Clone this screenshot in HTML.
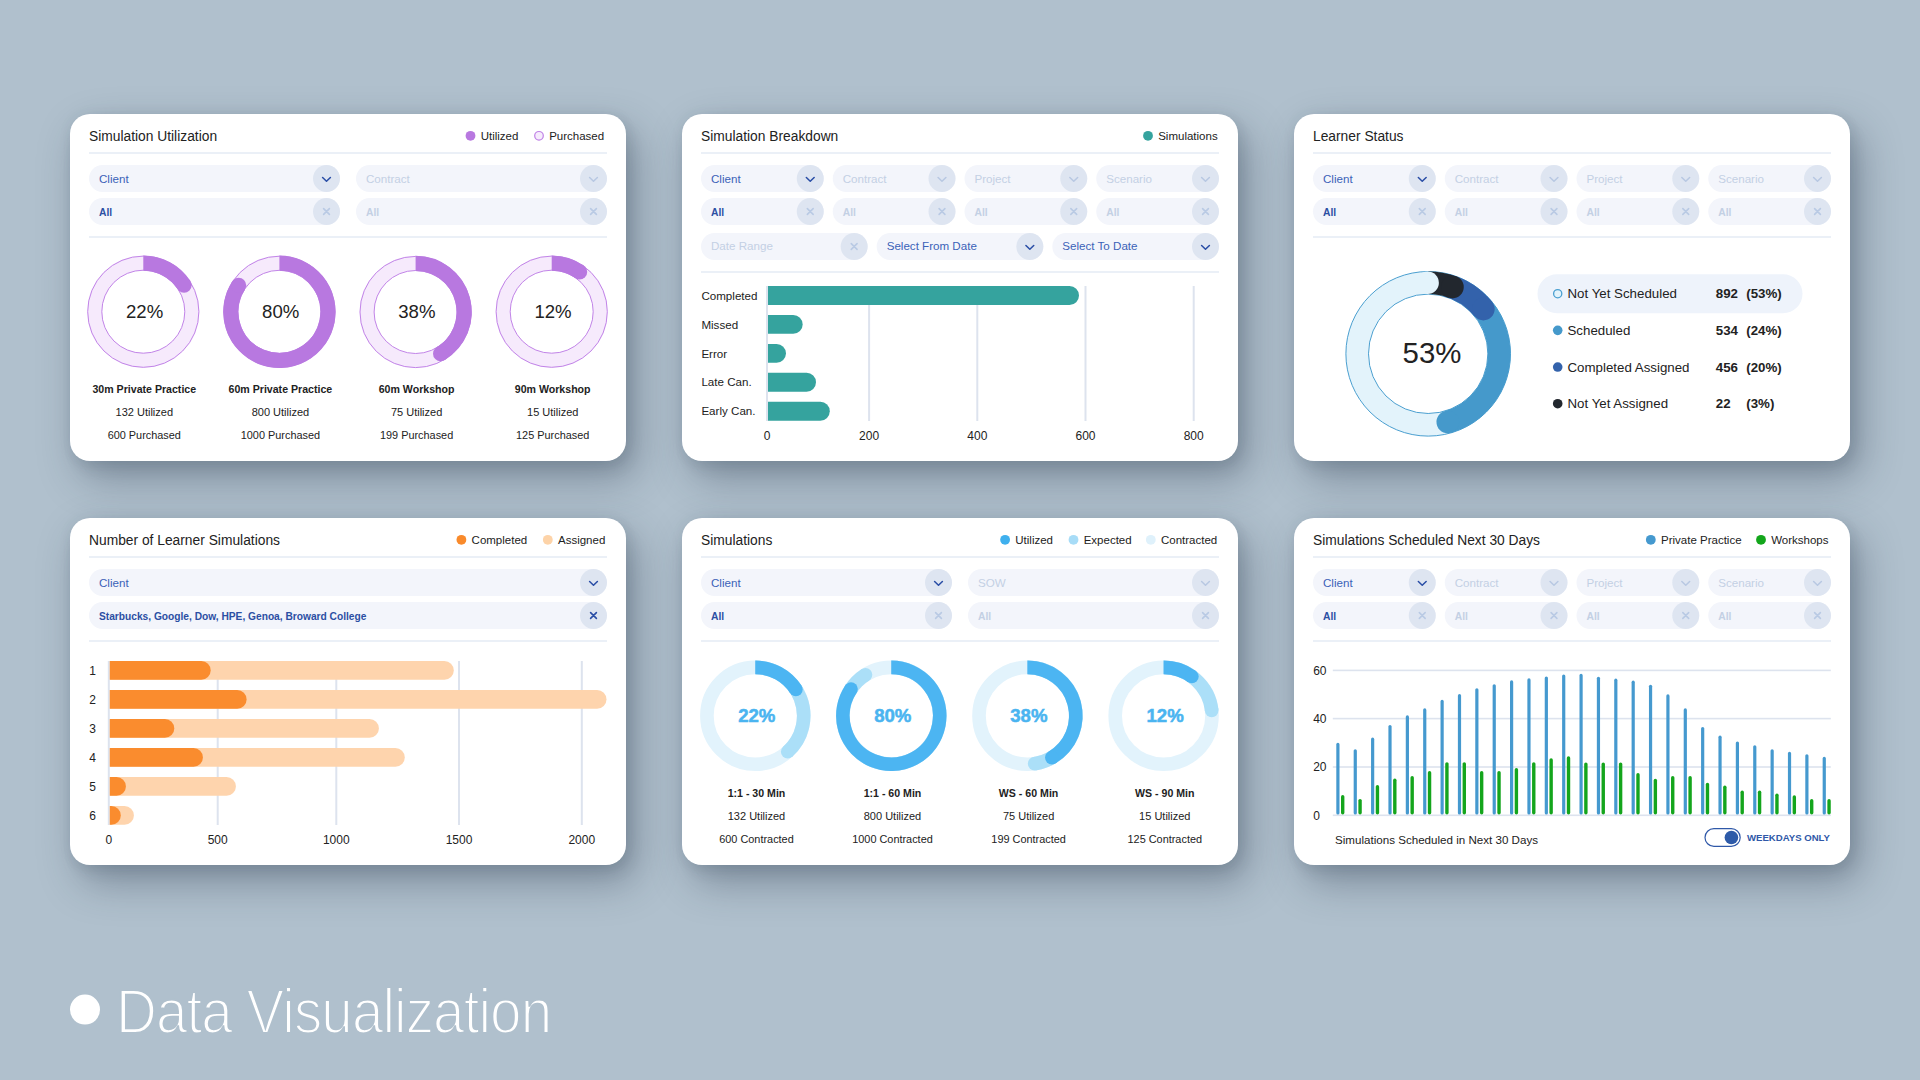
<!DOCTYPE html>
<html><head><meta charset="utf-8"><title>Data Visualization</title><style>
*{margin:0;padding:0;box-sizing:border-box}
html,body{width:1920px;height:1080px;overflow:hidden;background:#b0c0cd;font-family:"Liberation Sans", sans-serif}
.card{position:absolute;width:556px;height:347px;background:#fff;border-radius:20px;box-shadow:0 0 14px rgba(40,60,80,0.06),5px 8px 14px rgba(35,50,70,0.08),10px 17px 40px rgba(35,50,70,0.37)}
svg{position:absolute;left:0;top:0}
.foot{position:absolute;left:116px;top:970.5px;font-size:63px;line-height:80px;color:#fff;letter-spacing:-1px;-webkit-text-stroke:2.1px #b0c0cd;transform:scaleX(0.897);transform-origin:0 0;white-space:nowrap}
</style></head>
<body>
<div class="card" style="left:70px;top:114px"></div><div class="card" style="left:682px;top:114px"></div><div class="card" style="left:1294px;top:114px"></div><div class="card" style="left:70px;top:518px"></div><div class="card" style="left:682px;top:518px"></div><div class="card" style="left:1294px;top:518px"></div>
<svg width="1920" height="1080" viewBox="0 0 1920 1080" font-family='"Liberation Sans", sans-serif'>
<text x="89" y="141.0" font-size="13.8" fill="#222222" font-weight="normal" text-anchor="start" >Simulation Utilization</text>
<rect x="89" y="152.2" width="518" height="1.6" rx="0" fill="#e7edf6" />
<text x="480.7" y="140.2" font-size="11.5" fill="#222222" font-weight="normal" text-anchor="start" >Utilized</text>
<circle cx="470.5" cy="135.8" r="4.9" fill="#b878e0" stroke="none" stroke-width="0" />
<text x="549.2" y="140.2" font-size="11.5" fill="#222222" font-weight="normal" text-anchor="start" >Purchased</text>
<circle cx="539.0" cy="135.8" r="4.3" fill="#f6ebfc" stroke="#bf80e6" stroke-width="1.2" />
<rect x="89" y="165" width="251" height="27" rx="13.5" fill="#f3f5fb" />
<circle cx="326.5" cy="178.5" r="13.5" fill="#dee5f1" stroke="none" stroke-width="0" />
<text x="99" y="182.6" font-size="11.6" fill="#3b62b8" font-weight="normal" text-anchor="start" >Client</text>
<path d="M322.6 177.5L326.5 181.20000000000002L330.4 177.5" fill="none" stroke="#2a4ea6" stroke-width="1.55" stroke-linecap="round" stroke-linejoin="round"/>
<rect x="356" y="165" width="251" height="27" rx="13.5" fill="#f3f5fb" />
<circle cx="593.5" cy="178.5" r="13.5" fill="#dee5f1" stroke="none" stroke-width="0" />
<text x="366" y="182.6" font-size="11.6" fill="#c3d0e4" font-weight="normal" text-anchor="start" >Contract</text>
<path d="M589.6 177.5L593.5 181.20000000000002L597.4 177.5" fill="none" stroke="#b8c8e2" stroke-width="1.55" stroke-linecap="round" stroke-linejoin="round"/>
<rect x="89" y="198" width="251" height="27" rx="13.5" fill="#f3f5fb" />
<circle cx="326.5" cy="211.5" r="13.5" fill="#dee5f1" stroke="none" stroke-width="0" />
<text x="99" y="215.6" font-size="10.3" fill="#2b4fa3" font-weight="bold" text-anchor="start" >All</text>
<path d="M323.6 208.6L329.4 214.4M329.4 208.6L323.6 214.4" fill="none" stroke="#b9cae4" stroke-width="1.6" stroke-linecap="round"/>
<rect x="356" y="198" width="251" height="27" rx="13.5" fill="#f3f5fb" />
<circle cx="593.5" cy="211.5" r="13.5" fill="#dee5f1" stroke="none" stroke-width="0" />
<text x="366" y="215.6" font-size="10.3" fill="#c3d0e4" font-weight="bold" text-anchor="start" >All</text>
<path d="M590.6 208.6L596.4 214.4M596.4 208.6L590.6 214.4" fill="none" stroke="#b9cae4" stroke-width="1.6" stroke-linecap="round"/>
<rect x="89" y="236.2" width="518" height="1.6" rx="0" fill="#e7edf6" />
<circle cx="143.3" cy="311.7" r="48.6" fill="none" stroke="#f6eafc" stroke-width="14.8" />
<circle cx="143.3" cy="311.7" r="55.6" fill="none" stroke="#c285e8" stroke-width="1" />
<circle cx="143.3" cy="311.7" r="41.5" fill="none" stroke="#c285e8" stroke-width="1" />
<path d="M143.30 263.10A48.6 48.6 0 0 1 184.06 285.23" fill="none" stroke="#b878e0" stroke-width="15.2"/>
<circle cx="184.06" cy="285.23" r="7.6" fill="#b878e0" stroke="none" stroke-width="0" />
<text x="144.60000000000002" y="318.09999999999997" font-size="18.6" fill="#222222" font-weight="normal" text-anchor="middle" >22%</text>
<text x="144.3" y="393" font-size="10.6" fill="#222222" font-weight="bold" text-anchor="middle" >30m Private Practice</text>
<text x="144.3" y="416.1" font-size="11" fill="#222222" font-weight="normal" text-anchor="middle" >132 Utilized</text>
<text x="144.3" y="439.2" font-size="10.9" fill="#222222" font-weight="normal" text-anchor="middle" >600 Purchased</text>
<circle cx="279.4" cy="311.8" r="48.6" fill="none" stroke="#f6eafc" stroke-width="14.8" />
<circle cx="279.4" cy="311.8" r="55.6" fill="none" stroke="#c285e8" stroke-width="1" />
<circle cx="279.4" cy="311.8" r="41.5" fill="none" stroke="#c285e8" stroke-width="1" />
<path d="M279.40 263.20A48.6 48.6 0 1 1 238.64 285.33" fill="none" stroke="#b878e0" stroke-width="15.2"/>
<circle cx="238.64" cy="285.33" r="7.6" fill="#b878e0" stroke="none" stroke-width="0" />
<text x="280.7" y="318.2" font-size="18.6" fill="#222222" font-weight="normal" text-anchor="middle" >80%</text>
<text x="280.4" y="393" font-size="10.6" fill="#222222" font-weight="bold" text-anchor="middle" >60m Private Practice</text>
<text x="280.4" y="416.1" font-size="11" fill="#222222" font-weight="normal" text-anchor="middle" >800 Utilized</text>
<text x="280.4" y="439.2" font-size="10.9" fill="#222222" font-weight="normal" text-anchor="middle" >1000 Purchased</text>
<circle cx="415.6" cy="312" r="48.6" fill="none" stroke="#f6eafc" stroke-width="14.8" />
<circle cx="415.6" cy="312" r="55.6" fill="none" stroke="#c285e8" stroke-width="1" />
<circle cx="415.6" cy="312" r="41.5" fill="none" stroke="#c285e8" stroke-width="1" />
<path d="M415.60 263.40A48.6 48.6 0 0 1 440.63 353.66" fill="none" stroke="#b878e0" stroke-width="15.2"/>
<circle cx="440.63" cy="353.66" r="7.6" fill="#b878e0" stroke="none" stroke-width="0" />
<text x="416.90000000000003" y="318.4" font-size="18.6" fill="#222222" font-weight="normal" text-anchor="middle" >38%</text>
<text x="416.6" y="393" font-size="10.6" fill="#222222" font-weight="bold" text-anchor="middle" >60m Workshop</text>
<text x="416.6" y="416.1" font-size="11" fill="#222222" font-weight="normal" text-anchor="middle" >75 Utilized</text>
<text x="416.6" y="439.2" font-size="10.9" fill="#222222" font-weight="normal" text-anchor="middle" >199 Purchased</text>
<circle cx="551.7" cy="311.7" r="48.6" fill="none" stroke="#f6eafc" stroke-width="14.8" />
<circle cx="551.7" cy="311.7" r="55.6" fill="none" stroke="#c285e8" stroke-width="1" />
<circle cx="551.7" cy="311.7" r="41.5" fill="none" stroke="#c285e8" stroke-width="1" />
<path d="M551.70 263.10A48.6 48.6 0 0 1 579.58 271.89" fill="none" stroke="#b878e0" stroke-width="15.2"/>
<circle cx="579.58" cy="271.89" r="7.6" fill="#b878e0" stroke="none" stroke-width="0" />
<text x="553.0" y="318.09999999999997" font-size="18.6" fill="#222222" font-weight="normal" text-anchor="middle" >12%</text>
<text x="552.7" y="393" font-size="10.6" fill="#222222" font-weight="bold" text-anchor="middle" >90m Workshop</text>
<text x="552.7" y="416.1" font-size="11" fill="#222222" font-weight="normal" text-anchor="middle" >15 Utilized</text>
<text x="552.7" y="439.2" font-size="10.9" fill="#222222" font-weight="normal" text-anchor="middle" >125 Purchased</text>
<text x="701" y="141.0" font-size="13.8" fill="#222222" font-weight="normal" text-anchor="start" >Simulation Breakdown</text>
<rect x="701" y="152.2" width="518" height="1.6" rx="0" fill="#e7edf6" />
<text x="1158.2" y="140.2" font-size="11.5" fill="#222222" font-weight="normal" text-anchor="start" >Simulations</text>
<circle cx="1148.0" cy="135.8" r="4.9" fill="#35a39e" stroke="none" stroke-width="0" />
<rect x="701.0" y="165" width="122.75" height="27" rx="13.5" fill="#f3f5fb" />
<circle cx="810.25" cy="178.5" r="13.5" fill="#dee5f1" stroke="none" stroke-width="0" />
<text x="711.0" y="182.6" font-size="11.6" fill="#3b62b8" font-weight="normal" text-anchor="start" >Client</text>
<path d="M806.35 177.5L810.25 181.20000000000002L814.15 177.5" fill="none" stroke="#2a4ea6" stroke-width="1.55" stroke-linecap="round" stroke-linejoin="round"/>
<rect x="701.0" y="198" width="122.75" height="27" rx="13.5" fill="#f3f5fb" />
<circle cx="810.25" cy="211.5" r="13.5" fill="#dee5f1" stroke="none" stroke-width="0" />
<text x="711.0" y="215.6" font-size="10.3" fill="#2b4fa3" font-weight="bold" text-anchor="start" >All</text>
<path d="M807.35 208.6L813.15 214.4M813.15 208.6L807.35 214.4" fill="none" stroke="#b9cae4" stroke-width="1.6" stroke-linecap="round"/>
<rect x="832.75" y="165" width="122.75" height="27" rx="13.5" fill="#f3f5fb" />
<circle cx="942.0" cy="178.5" r="13.5" fill="#dee5f1" stroke="none" stroke-width="0" />
<text x="842.75" y="182.6" font-size="11.6" fill="#c3d0e4" font-weight="normal" text-anchor="start" >Contract</text>
<path d="M938.1 177.5L942.0 181.20000000000002L945.9 177.5" fill="none" stroke="#b8c8e2" stroke-width="1.55" stroke-linecap="round" stroke-linejoin="round"/>
<rect x="832.75" y="198" width="122.75" height="27" rx="13.5" fill="#f3f5fb" />
<circle cx="942.0" cy="211.5" r="13.5" fill="#dee5f1" stroke="none" stroke-width="0" />
<text x="842.75" y="215.6" font-size="10.3" fill="#c3d0e4" font-weight="bold" text-anchor="start" >All</text>
<path d="M939.1 208.6L944.9 214.4M944.9 208.6L939.1 214.4" fill="none" stroke="#b9cae4" stroke-width="1.6" stroke-linecap="round"/>
<rect x="964.5" y="165" width="122.75" height="27" rx="13.5" fill="#f3f5fb" />
<circle cx="1073.75" cy="178.5" r="13.5" fill="#dee5f1" stroke="none" stroke-width="0" />
<text x="974.5" y="182.6" font-size="11.6" fill="#c3d0e4" font-weight="normal" text-anchor="start" >Project</text>
<path d="M1069.85 177.5L1073.75 181.20000000000002L1077.65 177.5" fill="none" stroke="#b8c8e2" stroke-width="1.55" stroke-linecap="round" stroke-linejoin="round"/>
<rect x="964.5" y="198" width="122.75" height="27" rx="13.5" fill="#f3f5fb" />
<circle cx="1073.75" cy="211.5" r="13.5" fill="#dee5f1" stroke="none" stroke-width="0" />
<text x="974.5" y="215.6" font-size="10.3" fill="#c3d0e4" font-weight="bold" text-anchor="start" >All</text>
<path d="M1070.85 208.6L1076.65 214.4M1076.65 208.6L1070.85 214.4" fill="none" stroke="#b9cae4" stroke-width="1.6" stroke-linecap="round"/>
<rect x="1096.25" y="165" width="122.75" height="27" rx="13.5" fill="#f3f5fb" />
<circle cx="1205.5" cy="178.5" r="13.5" fill="#dee5f1" stroke="none" stroke-width="0" />
<text x="1106.25" y="182.6" font-size="11.6" fill="#c3d0e4" font-weight="normal" text-anchor="start" >Scenario</text>
<path d="M1201.6 177.5L1205.5 181.20000000000002L1209.4 177.5" fill="none" stroke="#b8c8e2" stroke-width="1.55" stroke-linecap="round" stroke-linejoin="round"/>
<rect x="1096.25" y="198" width="122.75" height="27" rx="13.5" fill="#f3f5fb" />
<circle cx="1205.5" cy="211.5" r="13.5" fill="#dee5f1" stroke="none" stroke-width="0" />
<text x="1106.25" y="215.6" font-size="10.3" fill="#c3d0e4" font-weight="bold" text-anchor="start" >All</text>
<path d="M1202.6 208.6L1208.4 214.4M1208.4 208.6L1202.6 214.4" fill="none" stroke="#b9cae4" stroke-width="1.6" stroke-linecap="round"/>
<rect x="701" y="233" width="166.66666666666666" height="27" rx="13.5" fill="#f3f5fb" />
<circle cx="854.1666666666666" cy="246.5" r="13.5" fill="#dee5f1" stroke="none" stroke-width="0" />
<text x="711" y="249.8" font-size="11.6" fill="#c3d0e4" font-weight="normal" text-anchor="start" >Date Range</text>
<path d="M851.2666666666667 243.6L857.0666666666666 249.4M857.0666666666666 243.6L851.2666666666667 249.4" fill="none" stroke="#b9cae4" stroke-width="1.6" stroke-linecap="round"/>
<rect x="876.6666666666666" y="233" width="166.66666666666666" height="27" rx="13.5" fill="#f3f5fb" />
<circle cx="1029.8333333333333" cy="246.5" r="13.5" fill="#dee5f1" stroke="none" stroke-width="0" />
<text x="886.6666666666666" y="249.8" font-size="11.6" fill="#3b62b8" font-weight="normal" text-anchor="start" >Select From Date</text>
<path d="M1025.9333333333332 245.5L1029.8333333333333 249.20000000000002L1033.7333333333333 245.5" fill="none" stroke="#2a4ea6" stroke-width="1.55" stroke-linecap="round" stroke-linejoin="round"/>
<rect x="1052.3333333333333" y="233" width="166.66666666666666" height="27" rx="13.5" fill="#f3f5fb" />
<circle cx="1205.5" cy="246.5" r="13.5" fill="#dee5f1" stroke="none" stroke-width="0" />
<text x="1062.3333333333333" y="249.8" font-size="11.6" fill="#3b62b8" font-weight="normal" text-anchor="start" >Select To Date</text>
<path d="M1201.6 245.5L1205.5 249.20000000000002L1209.4 245.5" fill="none" stroke="#2a4ea6" stroke-width="1.55" stroke-linecap="round" stroke-linejoin="round"/>
<rect x="701" y="271.2" width="518" height="1.6" rx="0" fill="#e7edf6" />
<rect x="766" y="286" width="2" height="135" rx="0" fill="#dde3ee" />
<text x="767" y="440" font-size="12" fill="#222222" font-weight="normal" text-anchor="middle" >0</text>
<rect x="868.1" y="286" width="2" height="135" rx="0" fill="#dde3ee" />
<text x="869.1" y="440" font-size="12" fill="#222222" font-weight="normal" text-anchor="middle" >200</text>
<rect x="976.3" y="286" width="2" height="135" rx="0" fill="#dde3ee" />
<text x="977.3" y="440" font-size="12" fill="#222222" font-weight="normal" text-anchor="middle" >400</text>
<rect x="1084.5" y="286" width="2" height="135" rx="0" fill="#dde3ee" />
<text x="1085.5" y="440" font-size="12" fill="#222222" font-weight="normal" text-anchor="middle" >600</text>
<rect x="1192.7" y="286" width="2" height="135" rx="0" fill="#dde3ee" />
<text x="1193.7" y="440" font-size="12" fill="#222222" font-weight="normal" text-anchor="middle" >800</text>
<path d="M768 286.00H1069.55A9.45 9.45 0 0 1 1069.55 304.90H768Z" fill="#35a39e"/>
<text x="701.4" y="299.6" font-size="11.6" fill="#222222" font-weight="normal" text-anchor="start" >Completed</text>
<path d="M768 314.95H793.25A9.45 9.45 0 0 1 793.25 333.85H768Z" fill="#35a39e"/>
<text x="701.4" y="328.55" font-size="11.6" fill="#222222" font-weight="normal" text-anchor="start" >Missed</text>
<path d="M768 343.90H776.55A9.45 9.45 0 0 1 776.55 362.80H768Z" fill="#35a39e"/>
<text x="701.4" y="357.5" font-size="11.6" fill="#222222" font-weight="normal" text-anchor="start" >Error</text>
<path d="M768 372.85H806.55A9.45 9.45 0 0 1 806.55 391.75H768Z" fill="#35a39e"/>
<text x="701.4" y="386.45000000000005" font-size="11.6" fill="#222222" font-weight="normal" text-anchor="start" >Late Can.</text>
<path d="M768 401.80H820.35A9.45 9.45 0 0 1 820.35 420.70H768Z" fill="#35a39e"/>
<text x="701.4" y="415.40000000000003" font-size="11.6" fill="#222222" font-weight="normal" text-anchor="start" >Early Can.</text>
<text x="1313" y="141.0" font-size="13.8" fill="#222222" font-weight="normal" text-anchor="start" >Learner Status</text>
<rect x="1313" y="152.2" width="518" height="1.6" rx="0" fill="#e7edf6" />
<rect x="1313.0" y="165" width="122.75" height="27" rx="13.5" fill="#f3f5fb" />
<circle cx="1422.25" cy="178.5" r="13.5" fill="#dee5f1" stroke="none" stroke-width="0" />
<text x="1323.0" y="182.6" font-size="11.6" fill="#3b62b8" font-weight="normal" text-anchor="start" >Client</text>
<path d="M1418.35 177.5L1422.25 181.20000000000002L1426.15 177.5" fill="none" stroke="#2a4ea6" stroke-width="1.55" stroke-linecap="round" stroke-linejoin="round"/>
<rect x="1313.0" y="198" width="122.75" height="27" rx="13.5" fill="#f3f5fb" />
<circle cx="1422.25" cy="211.5" r="13.5" fill="#dee5f1" stroke="none" stroke-width="0" />
<text x="1323.0" y="215.6" font-size="10.3" fill="#2b4fa3" font-weight="bold" text-anchor="start" >All</text>
<path d="M1419.35 208.6L1425.15 214.4M1425.15 208.6L1419.35 214.4" fill="none" stroke="#b9cae4" stroke-width="1.6" stroke-linecap="round"/>
<rect x="1444.75" y="165" width="122.75" height="27" rx="13.5" fill="#f3f5fb" />
<circle cx="1554.0" cy="178.5" r="13.5" fill="#dee5f1" stroke="none" stroke-width="0" />
<text x="1454.75" y="182.6" font-size="11.6" fill="#c3d0e4" font-weight="normal" text-anchor="start" >Contract</text>
<path d="M1550.1 177.5L1554.0 181.20000000000002L1557.9 177.5" fill="none" stroke="#b8c8e2" stroke-width="1.55" stroke-linecap="round" stroke-linejoin="round"/>
<rect x="1444.75" y="198" width="122.75" height="27" rx="13.5" fill="#f3f5fb" />
<circle cx="1554.0" cy="211.5" r="13.5" fill="#dee5f1" stroke="none" stroke-width="0" />
<text x="1454.75" y="215.6" font-size="10.3" fill="#c3d0e4" font-weight="bold" text-anchor="start" >All</text>
<path d="M1551.1 208.6L1556.9 214.4M1556.9 208.6L1551.1 214.4" fill="none" stroke="#b9cae4" stroke-width="1.6" stroke-linecap="round"/>
<rect x="1576.5" y="165" width="122.75" height="27" rx="13.5" fill="#f3f5fb" />
<circle cx="1685.75" cy="178.5" r="13.5" fill="#dee5f1" stroke="none" stroke-width="0" />
<text x="1586.5" y="182.6" font-size="11.6" fill="#c3d0e4" font-weight="normal" text-anchor="start" >Project</text>
<path d="M1681.85 177.5L1685.75 181.20000000000002L1689.65 177.5" fill="none" stroke="#b8c8e2" stroke-width="1.55" stroke-linecap="round" stroke-linejoin="round"/>
<rect x="1576.5" y="198" width="122.75" height="27" rx="13.5" fill="#f3f5fb" />
<circle cx="1685.75" cy="211.5" r="13.5" fill="#dee5f1" stroke="none" stroke-width="0" />
<text x="1586.5" y="215.6" font-size="10.3" fill="#c3d0e4" font-weight="bold" text-anchor="start" >All</text>
<path d="M1682.85 208.6L1688.65 214.4M1688.65 208.6L1682.85 214.4" fill="none" stroke="#b9cae4" stroke-width="1.6" stroke-linecap="round"/>
<rect x="1708.25" y="165" width="122.75" height="27" rx="13.5" fill="#f3f5fb" />
<circle cx="1817.5" cy="178.5" r="13.5" fill="#dee5f1" stroke="none" stroke-width="0" />
<text x="1718.25" y="182.6" font-size="11.6" fill="#c3d0e4" font-weight="normal" text-anchor="start" >Scenario</text>
<path d="M1813.6 177.5L1817.5 181.20000000000002L1821.4 177.5" fill="none" stroke="#b8c8e2" stroke-width="1.55" stroke-linecap="round" stroke-linejoin="round"/>
<rect x="1708.25" y="198" width="122.75" height="27" rx="13.5" fill="#f3f5fb" />
<circle cx="1817.5" cy="211.5" r="13.5" fill="#dee5f1" stroke="none" stroke-width="0" />
<text x="1718.25" y="215.6" font-size="10.3" fill="#c3d0e4" font-weight="bold" text-anchor="start" >All</text>
<path d="M1814.6 208.6L1820.4 214.4M1820.4 208.6L1814.6 214.4" fill="none" stroke="#b9cae4" stroke-width="1.6" stroke-linecap="round"/>
<rect x="1313" y="236.2" width="518" height="1.6" rx="0" fill="#e7edf6" />
<circle cx="1428.2" cy="353.8" r="71" fill="none" stroke="#e3f3fb" stroke-width="22.6" />
<circle cx="1428.2" cy="353.8" r="82.3" fill="none" stroke="#4a9fd0" stroke-width="1" />
<circle cx="1428.2" cy="353.8" r="59.7" fill="none" stroke="#4a9fd0" stroke-width="1" />
<path d="M1473.84 299.41A71 71 0 0 1 1447.77 422.05" fill="none" stroke="#4599cb" stroke-width="22.6"/>
<path d="M1446.58 285.22A71 71 0 0 1 1483.38 309.12" fill="none" stroke="#3362ab" stroke-width="22.6"/>
<path d="M1428.20 282.80A71 71 0 0 1 1452.48 287.08" fill="none" stroke="#22272e" stroke-width="22.6"/>
<circle cx="1447.77" cy="422.05" r="11.3" fill="#4599cb" stroke="none" stroke-width="0" />
<circle cx="1483.38" cy="309.12" r="11.3" fill="#3362ab" stroke="none" stroke-width="0" />
<circle cx="1452.48" cy="287.08" r="11.3" fill="#22272e" stroke="none" stroke-width="0" />
<circle cx="1427.58" cy="282.80" r="11.3" fill="#e3f3fb" stroke="none" stroke-width="0" />
<text x="1432" y="363" font-size="29.4" fill="#222222" font-weight="normal" text-anchor="middle" >53%</text>
<rect x="1537.5" y="274.2" width="265" height="39" rx="19.5" fill="#eef3fb" />
<circle cx="1557.7" cy="293.7" r="4.1" fill="#e3f3fb" stroke="#4a9fd0" stroke-width="1.3" />
<text x="1567.5" y="298.4" font-size="13.3" fill="#222222" font-weight="normal" text-anchor="start" >Not Yet Scheduled</text>
<text x="1715.8" y="298.4" font-size="13.3" fill="#222222" font-weight="bold" text-anchor="start" >892</text>
<text x="1746.3" y="298.4" font-size="13.3" fill="#222222" font-weight="bold" text-anchor="start" >(53%)</text>
<circle cx="1557.7" cy="330.37" r="4.8" fill="#4599cb" stroke="none" stroke-width="0" />
<text x="1567.5" y="335.07" font-size="13.3" fill="#222222" font-weight="normal" text-anchor="start" >Scheduled</text>
<text x="1715.8" y="335.07" font-size="13.3" fill="#222222" font-weight="bold" text-anchor="start" >534</text>
<text x="1746.3" y="335.07" font-size="13.3" fill="#222222" font-weight="bold" text-anchor="start" >(24%)</text>
<circle cx="1557.7" cy="367.03999999999996" r="4.8" fill="#3362ab" stroke="none" stroke-width="0" />
<text x="1567.5" y="371.73999999999995" font-size="13.3" fill="#222222" font-weight="normal" text-anchor="start" >Completed Assigned</text>
<text x="1715.8" y="371.73999999999995" font-size="13.3" fill="#222222" font-weight="bold" text-anchor="start" >456</text>
<text x="1746.3" y="371.73999999999995" font-size="13.3" fill="#222222" font-weight="bold" text-anchor="start" >(20%)</text>
<circle cx="1557.7" cy="403.71" r="4.8" fill="#22272e" stroke="none" stroke-width="0" />
<text x="1567.5" y="408.40999999999997" font-size="13.3" fill="#222222" font-weight="normal" text-anchor="start" >Not Yet Assigned</text>
<text x="1715.8" y="408.40999999999997" font-size="13.3" fill="#222222" font-weight="bold" text-anchor="start" >22</text>
<text x="1746.3" y="408.40999999999997" font-size="13.3" fill="#222222" font-weight="bold" text-anchor="start" >(3%)</text>
<text x="89" y="545.0" font-size="13.8" fill="#222222" font-weight="normal" text-anchor="start" >Number of Learner Simulations</text>
<rect x="89" y="556.2" width="518" height="1.6" rx="0" fill="#e7edf6" />
<text x="471.6" y="544.2" font-size="11.5" fill="#222222" font-weight="normal" text-anchor="start" >Completed</text>
<circle cx="461.40000000000003" cy="539.8" r="4.9" fill="#f98a2b" stroke="none" stroke-width="0" />
<text x="558" y="544.2" font-size="11.5" fill="#222222" font-weight="normal" text-anchor="start" >Assigned</text>
<circle cx="547.8" cy="539.8" r="4.9" fill="#fdd3a8" stroke="none" stroke-width="0" />
<rect x="89" y="569" width="518" height="27" rx="13.5" fill="#f3f5fb" />
<circle cx="593.5" cy="582.5" r="13.5" fill="#dee5f1" stroke="none" stroke-width="0" />
<text x="99" y="586.6" font-size="11.6" fill="#3b62b8" font-weight="normal" text-anchor="start" >Client</text>
<path d="M589.6 581.5L593.5 585.1999999999999L597.4 581.5" fill="none" stroke="#2a4ea6" stroke-width="1.55" stroke-linecap="round" stroke-linejoin="round"/>
<rect x="89" y="602" width="518" height="27" rx="13.5" fill="#f3f5fb" />
<circle cx="593.5" cy="615.5" r="13.5" fill="#dee5f1" stroke="none" stroke-width="0" />
<text x="99" y="619.6" font-size="10.2" fill="#2b4fa3" font-weight="bold" text-anchor="start" >Starbucks, Google, Dow, HPE, Genoa, Broward College</text>
<path d="M590.6 612.6L596.4 618.4M596.4 612.6L590.6 618.4" fill="none" stroke="#2a4ea6" stroke-width="1.6" stroke-linecap="round"/>
<rect x="89" y="640.2" width="518" height="1.6" rx="0" fill="#e7edf6" />
<rect x="107.8" y="661" width="2" height="164" rx="0" fill="#dde3ee" />
<text x="108.8" y="843.8" font-size="12" fill="#222222" font-weight="normal" text-anchor="middle" >0</text>
<rect x="216.7" y="661" width="2" height="164" rx="0" fill="#dde3ee" />
<text x="217.7" y="843.8" font-size="12" fill="#222222" font-weight="normal" text-anchor="middle" >500</text>
<rect x="335.3" y="661" width="2" height="164" rx="0" fill="#dde3ee" />
<text x="336.3" y="843.8" font-size="12" fill="#222222" font-weight="normal" text-anchor="middle" >1000</text>
<rect x="458" y="661" width="2" height="164" rx="0" fill="#dde3ee" />
<text x="459" y="843.8" font-size="12" fill="#222222" font-weight="normal" text-anchor="middle" >1500</text>
<rect x="580.8" y="661" width="2" height="164" rx="0" fill="#dde3ee" />
<text x="581.8" y="843.8" font-size="12" fill="#222222" font-weight="normal" text-anchor="middle" >2000</text>
<path d="M109.8 661.00H444.40A9.4 9.4 0 0 1 444.40 679.80H109.8Z" fill="#fed4ad"/>
<path d="M109.8 661.00H201.30A9.4 9.4 0 0 1 201.30 679.80H109.8Z" fill="#fa8c2e"/>
<text x="92.6" y="674.9" font-size="12" fill="#222222" font-weight="normal" text-anchor="middle" >1</text>
<path d="M109.8 690.00H597.10A9.4 9.4 0 0 1 597.10 708.80H109.8Z" fill="#fed4ad"/>
<path d="M109.8 690.00H237.20A9.4 9.4 0 0 1 237.20 708.80H109.8Z" fill="#fa8c2e"/>
<text x="92.6" y="703.9" font-size="12" fill="#222222" font-weight="normal" text-anchor="middle" >2</text>
<path d="M109.8 719.00H369.50A9.4 9.4 0 0 1 369.50 737.80H109.8Z" fill="#fed4ad"/>
<path d="M109.8 719.00H164.90A9.4 9.4 0 0 1 164.90 737.80H109.8Z" fill="#fa8c2e"/>
<text x="92.6" y="732.9" font-size="12" fill="#222222" font-weight="normal" text-anchor="middle" >3</text>
<path d="M109.8 748.00H395.40A9.4 9.4 0 0 1 395.40 766.80H109.8Z" fill="#fed4ad"/>
<path d="M109.8 748.00H193.50A9.4 9.4 0 0 1 193.50 766.80H109.8Z" fill="#fa8c2e"/>
<text x="92.6" y="761.9" font-size="12" fill="#222222" font-weight="normal" text-anchor="middle" >4</text>
<path d="M109.8 777.00H226.50A9.4 9.4 0 0 1 226.50 795.80H109.8Z" fill="#fed4ad"/>
<path d="M109.8 777.00H116.50A9.4 9.4 0 0 1 116.50 795.80H109.8Z" fill="#fa8c2e"/>
<text x="92.6" y="790.9" font-size="12" fill="#222222" font-weight="normal" text-anchor="middle" >5</text>
<path d="M109.8 806.00H124.50A9.4 9.4 0 0 1 124.50 824.80H109.8Z" fill="#fed4ad"/>
<path d="M109.8 806.00H111.40A9.4 9.4 0 0 1 111.40 824.80H109.8Z" fill="#fa8c2e"/>
<text x="92.6" y="819.9" font-size="12" fill="#222222" font-weight="normal" text-anchor="middle" >6</text>
<text x="701" y="545.0" font-size="13.8" fill="#222222" font-weight="normal" text-anchor="start" >Simulations</text>
<rect x="701" y="556.2" width="518" height="1.6" rx="0" fill="#e7edf6" />
<text x="1015.3" y="544.2" font-size="11.5" fill="#222222" font-weight="normal" text-anchor="start" >Utilized</text>
<circle cx="1005.0999999999999" cy="539.8" r="4.9" fill="#3fb0ee" stroke="none" stroke-width="0" />
<text x="1083.7" y="544.2" font-size="11.5" fill="#222222" font-weight="normal" text-anchor="start" >Expected</text>
<circle cx="1073.5" cy="539.8" r="4.9" fill="#a7dcf7" stroke="none" stroke-width="0" />
<text x="1161" y="544.2" font-size="11.5" fill="#222222" font-weight="normal" text-anchor="start" >Contracted</text>
<circle cx="1150.8" cy="539.8" r="4.9" fill="#dff1fb" stroke="none" stroke-width="0" />
<rect x="701" y="569" width="251" height="27" rx="13.5" fill="#f3f5fb" />
<circle cx="938.5" cy="582.5" r="13.5" fill="#dee5f1" stroke="none" stroke-width="0" />
<text x="711" y="586.6" font-size="11.6" fill="#3b62b8" font-weight="normal" text-anchor="start" >Client</text>
<path d="M934.6 581.5L938.5 585.1999999999999L942.4 581.5" fill="none" stroke="#2a4ea6" stroke-width="1.55" stroke-linecap="round" stroke-linejoin="round"/>
<rect x="968" y="569" width="251" height="27" rx="13.5" fill="#f3f5fb" />
<circle cx="1205.5" cy="582.5" r="13.5" fill="#dee5f1" stroke="none" stroke-width="0" />
<text x="978" y="586.6" font-size="11.6" fill="#c3d0e4" font-weight="normal" text-anchor="start" >SOW</text>
<path d="M1201.6 581.5L1205.5 585.1999999999999L1209.4 581.5" fill="none" stroke="#b8c8e2" stroke-width="1.55" stroke-linecap="round" stroke-linejoin="round"/>
<rect x="701" y="602" width="251" height="27" rx="13.5" fill="#f3f5fb" />
<circle cx="938.5" cy="615.5" r="13.5" fill="#dee5f1" stroke="none" stroke-width="0" />
<text x="711" y="619.6" font-size="10.3" fill="#2b4fa3" font-weight="bold" text-anchor="start" >All</text>
<path d="M935.6 612.6L941.4 618.4M941.4 612.6L935.6 618.4" fill="none" stroke="#b9cae4" stroke-width="1.6" stroke-linecap="round"/>
<rect x="968" y="602" width="251" height="27" rx="13.5" fill="#f3f5fb" />
<circle cx="1205.5" cy="615.5" r="13.5" fill="#dee5f1" stroke="none" stroke-width="0" />
<text x="978" y="619.6" font-size="10.3" fill="#c3d0e4" font-weight="bold" text-anchor="start" >All</text>
<path d="M1202.6 612.6L1208.4 618.4M1208.4 612.6L1202.6 618.4" fill="none" stroke="#b9cae4" stroke-width="1.6" stroke-linecap="round"/>
<rect x="701" y="640.2" width="518" height="1.6" rx="0" fill="#e7edf6" />
<circle cx="755.3" cy="715.8" r="48.4" fill="none" stroke="#e2f3fc" stroke-width="13.6" />
<path d="M755.30 667.40A48.4 48.4 0 0 1 787.69 751.77" fill="none" stroke="#abdff8" stroke-width="13.6"/>
<circle cx="787.69" cy="751.77" r="6.8" fill="#abdff8" stroke="none" stroke-width="0" />
<path d="M755.30 667.40A48.4 48.4 0 0 1 795.89 689.44" fill="none" stroke="#4cb5f2" stroke-width="13.6"/>
<circle cx="795.89" cy="689.44" r="6.8" fill="#4cb5f2" stroke="none" stroke-width="0" />
<text x="756.8" y="722.1999999999999" font-size="18.6" fill="#4ab4f0" font-weight="bold" text-anchor="middle" stroke="#4ab4f0" stroke-width="0.5">22%</text>
<text x="756.5" y="797" font-size="10.6" fill="#222222" font-weight="bold" text-anchor="middle" >1:1 - 30 Min</text>
<text x="756.5" y="820.1" font-size="11" fill="#222222" font-weight="normal" text-anchor="middle" >132 Utilized</text>
<text x="756.5" y="843.2" font-size="10.9" fill="#222222" font-weight="normal" text-anchor="middle" >600 Contracted</text>
<circle cx="891.3" cy="715.8" r="48.4" fill="none" stroke="#e2f3fc" stroke-width="13.6" />
<path d="M891.30 667.40A48.4 48.4 0 1 1 865.51 674.84" fill="none" stroke="#abdff8" stroke-width="13.6"/>
<circle cx="865.51" cy="674.84" r="6.8" fill="#abdff8" stroke="none" stroke-width="0" />
<path d="M891.30 667.40A48.4 48.4 0 1 1 851.03 688.95" fill="none" stroke="#4cb5f2" stroke-width="13.6"/>
<circle cx="851.03" cy="688.95" r="6.8" fill="#4cb5f2" stroke="none" stroke-width="0" />
<text x="892.8" y="722.1999999999999" font-size="18.6" fill="#4ab4f0" font-weight="bold" text-anchor="middle" stroke="#4ab4f0" stroke-width="0.5">80%</text>
<text x="892.5" y="797" font-size="10.6" fill="#222222" font-weight="bold" text-anchor="middle" >1:1 - 60 Min</text>
<text x="892.5" y="820.1" font-size="11" fill="#222222" font-weight="normal" text-anchor="middle" >800 Utilized</text>
<text x="892.5" y="843.2" font-size="10.9" fill="#222222" font-weight="normal" text-anchor="middle" >1000 Contracted</text>
<circle cx="1027.4" cy="715.8" r="48.4" fill="none" stroke="#e2f3fc" stroke-width="13.6" />
<path d="M1027.40 667.40A48.4 48.4 0 0 1 1034.64 763.66" fill="none" stroke="#abdff8" stroke-width="13.6"/>
<circle cx="1034.64" cy="763.66" r="6.8" fill="#abdff8" stroke="none" stroke-width="0" />
<path d="M1027.40 667.40A48.4 48.4 0 0 1 1051.82 757.59" fill="none" stroke="#4cb5f2" stroke-width="13.6"/>
<circle cx="1051.82" cy="757.59" r="6.8" fill="#4cb5f2" stroke="none" stroke-width="0" />
<text x="1028.9" y="722.1999999999999" font-size="18.6" fill="#4ab4f0" font-weight="bold" text-anchor="middle" stroke="#4ab4f0" stroke-width="0.5">38%</text>
<text x="1028.6000000000001" y="797" font-size="10.6" fill="#222222" font-weight="bold" text-anchor="middle" >WS - 60 Min</text>
<text x="1028.6000000000001" y="820.1" font-size="11" fill="#222222" font-weight="normal" text-anchor="middle" >75 Utilized</text>
<text x="1028.6000000000001" y="843.2" font-size="10.9" fill="#222222" font-weight="normal" text-anchor="middle" >199 Contracted</text>
<circle cx="1163.6" cy="715.8" r="48.4" fill="none" stroke="#e2f3fc" stroke-width="13.6" />
<path d="M1163.60 667.40A48.4 48.4 0 0 1 1211.70 710.40" fill="none" stroke="#abdff8" stroke-width="13.6"/>
<circle cx="1211.70" cy="710.40" r="6.8" fill="#abdff8" stroke="none" stroke-width="0" />
<path d="M1163.60 667.40A48.4 48.4 0 0 1 1191.84 676.50" fill="none" stroke="#4cb5f2" stroke-width="13.6"/>
<circle cx="1191.84" cy="676.50" r="6.8" fill="#4cb5f2" stroke="none" stroke-width="0" />
<text x="1165.1" y="722.1999999999999" font-size="18.6" fill="#4ab4f0" font-weight="bold" text-anchor="middle" stroke="#4ab4f0" stroke-width="0.5">12%</text>
<text x="1164.8" y="797" font-size="10.6" fill="#222222" font-weight="bold" text-anchor="middle" >WS - 90 Min</text>
<text x="1164.8" y="820.1" font-size="11" fill="#222222" font-weight="normal" text-anchor="middle" >15 Utilized</text>
<text x="1164.8" y="843.2" font-size="10.9" fill="#222222" font-weight="normal" text-anchor="middle" >125 Contracted</text>
<text x="1313" y="545.0" font-size="13.8" fill="#222222" font-weight="normal" text-anchor="start" >Simulations Scheduled Next 30 Days</text>
<rect x="1313" y="556.2" width="518" height="1.6" rx="0" fill="#e7edf6" />
<text x="1661" y="544.2" font-size="11.5" fill="#222222" font-weight="normal" text-anchor="start" >Private Practice</text>
<circle cx="1650.8" cy="539.8" r="4.9" fill="#4599cf" stroke="none" stroke-width="0" />
<text x="1771.2" y="544.2" font-size="11.5" fill="#222222" font-weight="normal" text-anchor="start" >Workshops</text>
<circle cx="1761.0" cy="539.8" r="4.9" fill="#13a61b" stroke="none" stroke-width="0" />
<rect x="1313.0" y="569" width="122.75" height="27" rx="13.5" fill="#f3f5fb" />
<circle cx="1422.25" cy="582.5" r="13.5" fill="#dee5f1" stroke="none" stroke-width="0" />
<text x="1323.0" y="586.6" font-size="11.6" fill="#3b62b8" font-weight="normal" text-anchor="start" >Client</text>
<path d="M1418.35 581.5L1422.25 585.1999999999999L1426.15 581.5" fill="none" stroke="#2a4ea6" stroke-width="1.55" stroke-linecap="round" stroke-linejoin="round"/>
<rect x="1313.0" y="602" width="122.75" height="27" rx="13.5" fill="#f3f5fb" />
<circle cx="1422.25" cy="615.5" r="13.5" fill="#dee5f1" stroke="none" stroke-width="0" />
<text x="1323.0" y="619.6" font-size="10.3" fill="#2b4fa3" font-weight="bold" text-anchor="start" >All</text>
<path d="M1419.35 612.6L1425.15 618.4M1425.15 612.6L1419.35 618.4" fill="none" stroke="#b9cae4" stroke-width="1.6" stroke-linecap="round"/>
<rect x="1444.75" y="569" width="122.75" height="27" rx="13.5" fill="#f3f5fb" />
<circle cx="1554.0" cy="582.5" r="13.5" fill="#dee5f1" stroke="none" stroke-width="0" />
<text x="1454.75" y="586.6" font-size="11.6" fill="#c3d0e4" font-weight="normal" text-anchor="start" >Contract</text>
<path d="M1550.1 581.5L1554.0 585.1999999999999L1557.9 581.5" fill="none" stroke="#b8c8e2" stroke-width="1.55" stroke-linecap="round" stroke-linejoin="round"/>
<rect x="1444.75" y="602" width="122.75" height="27" rx="13.5" fill="#f3f5fb" />
<circle cx="1554.0" cy="615.5" r="13.5" fill="#dee5f1" stroke="none" stroke-width="0" />
<text x="1454.75" y="619.6" font-size="10.3" fill="#c3d0e4" font-weight="bold" text-anchor="start" >All</text>
<path d="M1551.1 612.6L1556.9 618.4M1556.9 612.6L1551.1 618.4" fill="none" stroke="#b9cae4" stroke-width="1.6" stroke-linecap="round"/>
<rect x="1576.5" y="569" width="122.75" height="27" rx="13.5" fill="#f3f5fb" />
<circle cx="1685.75" cy="582.5" r="13.5" fill="#dee5f1" stroke="none" stroke-width="0" />
<text x="1586.5" y="586.6" font-size="11.6" fill="#c3d0e4" font-weight="normal" text-anchor="start" >Project</text>
<path d="M1681.85 581.5L1685.75 585.1999999999999L1689.65 581.5" fill="none" stroke="#b8c8e2" stroke-width="1.55" stroke-linecap="round" stroke-linejoin="round"/>
<rect x="1576.5" y="602" width="122.75" height="27" rx="13.5" fill="#f3f5fb" />
<circle cx="1685.75" cy="615.5" r="13.5" fill="#dee5f1" stroke="none" stroke-width="0" />
<text x="1586.5" y="619.6" font-size="10.3" fill="#c3d0e4" font-weight="bold" text-anchor="start" >All</text>
<path d="M1682.85 612.6L1688.65 618.4M1688.65 612.6L1682.85 618.4" fill="none" stroke="#b9cae4" stroke-width="1.6" stroke-linecap="round"/>
<rect x="1708.25" y="569" width="122.75" height="27" rx="13.5" fill="#f3f5fb" />
<circle cx="1817.5" cy="582.5" r="13.5" fill="#dee5f1" stroke="none" stroke-width="0" />
<text x="1718.25" y="586.6" font-size="11.6" fill="#c3d0e4" font-weight="normal" text-anchor="start" >Scenario</text>
<path d="M1813.6 581.5L1817.5 585.1999999999999L1821.4 581.5" fill="none" stroke="#b8c8e2" stroke-width="1.55" stroke-linecap="round" stroke-linejoin="round"/>
<rect x="1708.25" y="602" width="122.75" height="27" rx="13.5" fill="#f3f5fb" />
<circle cx="1817.5" cy="615.5" r="13.5" fill="#dee5f1" stroke="none" stroke-width="0" />
<text x="1718.25" y="619.6" font-size="10.3" fill="#c3d0e4" font-weight="bold" text-anchor="start" >All</text>
<path d="M1814.6 612.6L1820.4 618.4M1820.4 612.6L1814.6 618.4" fill="none" stroke="#b9cae4" stroke-width="1.6" stroke-linecap="round"/>
<rect x="1313" y="640.2" width="518" height="1.6" rx="0" fill="#e7edf6" />
<rect x="1332.8" y="669.6" width="498" height="1.6" rx="0" fill="#dde3ee" />
<text x="1313.2" y="674.6999999999999" font-size="12" fill="#222222" font-weight="normal" text-anchor="start" >60</text>
<rect x="1332.8" y="717.8000000000001" width="498" height="1.6" rx="0" fill="#dde3ee" />
<text x="1313.2" y="722.9" font-size="12" fill="#222222" font-weight="normal" text-anchor="start" >40</text>
<rect x="1332.8" y="766.2" width="498" height="1.6" rx="0" fill="#dde3ee" />
<text x="1313.2" y="771.3" font-size="12" fill="#222222" font-weight="normal" text-anchor="start" >20</text>
<rect x="1332.8" y="814.5" width="498" height="1.6" rx="0" fill="#dde3ee" />
<text x="1313.2" y="819.5999999999999" font-size="12" fill="#222222" font-weight="normal" text-anchor="start" >0</text>
<rect x="1336.30" y="742.85" width="3.2" height="71.65" rx="1.6" fill="#4599cf" />
<rect x="1341.00" y="795.01" width="3.4" height="19.49" rx="1.7" fill="#14a51c" />
<rect x="1353.67" y="749.13" width="3.2" height="65.37" rx="1.6" fill="#4599cf" />
<rect x="1358.37" y="798.88" width="3.4" height="15.62" rx="1.7" fill="#14a51c" />
<rect x="1371.04" y="737.54" width="3.2" height="76.96" rx="1.6" fill="#4599cf" />
<rect x="1375.74" y="785.11" width="3.4" height="29.39" rx="1.7" fill="#14a51c" />
<rect x="1388.41" y="724.98" width="3.2" height="89.52" rx="1.6" fill="#4599cf" />
<rect x="1393.11" y="778.59" width="3.4" height="35.91" rx="1.7" fill="#14a51c" />
<rect x="1405.78" y="715.32" width="3.2" height="99.18" rx="1.6" fill="#4599cf" />
<rect x="1410.48" y="775.94" width="3.4" height="38.56" rx="1.7" fill="#14a51c" />
<rect x="1423.15" y="708.32" width="3.2" height="106.18" rx="1.6" fill="#4599cf" />
<rect x="1427.85" y="771.11" width="3.4" height="43.39" rx="1.7" fill="#14a51c" />
<rect x="1440.52" y="699.86" width="3.2" height="114.64" rx="1.6" fill="#4599cf" />
<rect x="1445.22" y="762.17" width="3.4" height="52.33" rx="1.7" fill="#14a51c" />
<rect x="1457.89" y="694.07" width="3.2" height="120.43" rx="1.6" fill="#4599cf" />
<rect x="1462.59" y="762.17" width="3.4" height="52.33" rx="1.7" fill="#14a51c" />
<rect x="1475.26" y="688.27" width="3.2" height="126.23" rx="1.6" fill="#4599cf" />
<rect x="1479.96" y="771.11" width="3.4" height="43.39" rx="1.7" fill="#14a51c" />
<rect x="1492.63" y="684.17" width="3.2" height="130.33" rx="1.6" fill="#4599cf" />
<rect x="1497.33" y="771.11" width="3.4" height="43.39" rx="1.7" fill="#14a51c" />
<rect x="1510.00" y="680.30" width="3.2" height="134.20" rx="1.6" fill="#4599cf" />
<rect x="1514.70" y="767.97" width="3.4" height="46.53" rx="1.7" fill="#14a51c" />
<rect x="1527.37" y="678.37" width="3.2" height="136.13" rx="1.6" fill="#4599cf" />
<rect x="1532.07" y="762.17" width="3.4" height="52.33" rx="1.7" fill="#14a51c" />
<rect x="1544.74" y="676.44" width="3.2" height="138.06" rx="1.6" fill="#4599cf" />
<rect x="1549.44" y="758.31" width="3.4" height="56.19" rx="1.7" fill="#14a51c" />
<rect x="1562.11" y="674.51" width="3.2" height="139.99" rx="1.6" fill="#4599cf" />
<rect x="1566.81" y="756.37" width="3.4" height="58.13" rx="1.7" fill="#14a51c" />
<rect x="1579.48" y="673.78" width="3.2" height="140.72" rx="1.6" fill="#4599cf" />
<rect x="1584.18" y="762.41" width="3.4" height="52.09" rx="1.7" fill="#14a51c" />
<rect x="1596.85" y="676.68" width="3.2" height="137.82" rx="1.6" fill="#4599cf" />
<rect x="1601.55" y="762.41" width="3.4" height="52.09" rx="1.7" fill="#14a51c" />
<rect x="1614.22" y="678.61" width="3.2" height="135.89" rx="1.6" fill="#4599cf" />
<rect x="1618.92" y="762.41" width="3.4" height="52.09" rx="1.7" fill="#14a51c" />
<rect x="1631.59" y="680.54" width="3.2" height="133.96" rx="1.6" fill="#4599cf" />
<rect x="1636.29" y="773.04" width="3.4" height="41.46" rx="1.7" fill="#14a51c" />
<rect x="1648.96" y="684.65" width="3.2" height="129.85" rx="1.6" fill="#4599cf" />
<rect x="1653.66" y="778.83" width="3.4" height="35.67" rx="1.7" fill="#14a51c" />
<rect x="1666.33" y="694.31" width="3.2" height="120.19" rx="1.6" fill="#4599cf" />
<rect x="1671.03" y="775.94" width="3.4" height="38.56" rx="1.7" fill="#14a51c" />
<rect x="1683.70" y="708.32" width="3.2" height="106.18" rx="1.6" fill="#4599cf" />
<rect x="1688.40" y="775.94" width="3.4" height="38.56" rx="1.7" fill="#14a51c" />
<rect x="1701.07" y="726.91" width="3.2" height="87.59" rx="1.6" fill="#4599cf" />
<rect x="1705.77" y="782.70" width="3.4" height="31.80" rx="1.7" fill="#14a51c" />
<rect x="1718.44" y="735.60" width="3.2" height="78.90" rx="1.6" fill="#4599cf" />
<rect x="1723.14" y="785.60" width="3.4" height="28.90" rx="1.7" fill="#14a51c" />
<rect x="1735.81" y="741.40" width="3.2" height="73.10" rx="1.6" fill="#4599cf" />
<rect x="1740.51" y="790.43" width="3.4" height="24.07" rx="1.7" fill="#14a51c" />
<rect x="1753.18" y="745.26" width="3.2" height="69.24" rx="1.6" fill="#4599cf" />
<rect x="1757.88" y="790.43" width="3.4" height="24.07" rx="1.7" fill="#14a51c" />
<rect x="1770.55" y="749.13" width="3.2" height="65.37" rx="1.6" fill="#4599cf" />
<rect x="1775.25" y="793.56" width="3.4" height="20.94" rx="1.7" fill="#14a51c" />
<rect x="1787.92" y="751.79" width="3.2" height="62.71" rx="1.6" fill="#4599cf" />
<rect x="1792.62" y="795.26" width="3.4" height="19.24" rx="1.7" fill="#14a51c" />
<rect x="1805.29" y="754.20" width="3.2" height="60.30" rx="1.6" fill="#4599cf" />
<rect x="1809.99" y="799.12" width="3.4" height="15.38" rx="1.7" fill="#14a51c" />
<rect x="1822.66" y="756.86" width="3.2" height="57.64" rx="1.6" fill="#4599cf" />
<rect x="1827.36" y="799.12" width="3.4" height="15.38" rx="1.7" fill="#14a51c" />
<text x="1335" y="843.8" font-size="11.6" fill="#222222" font-weight="normal" text-anchor="start" >Simulations Scheduled in Next 30 Days</text>
<rect x="1705" y="828.6" width="35.2" height="17.8" rx="8.9" fill="#ffffff" stroke="#2f58a8" stroke-width="1.2"/>
<circle cx="1731.4" cy="837.5" r="6.8" fill="#2d5aa8" stroke="none" stroke-width="0" />
<text x="1747" y="841.3" font-size="9.6" fill="#2f58a8" font-weight="bold" text-anchor="start" >WEEKDAYS ONLY</text>
<circle cx="85" cy="1009.6" r="15" fill="#ffffff" stroke="none" stroke-width="0" />
</svg>
<div class="foot">Data Visualization</div>
</body></html>
